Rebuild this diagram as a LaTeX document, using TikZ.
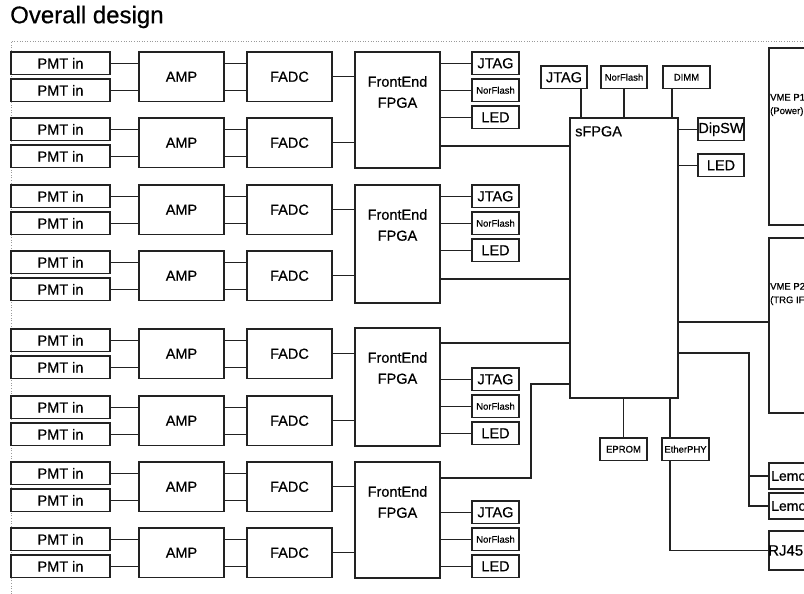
\documentclass[tikz,border=0pt]{standalone}
\usepackage{fontspec}
\setmainfont{Liberation Sans}[FakeBold=0.6]
\usetikzlibrary{positioning,calc}
\definecolor{framegray}{HTML}{9A9A9A}
\definecolor{ink}{HTML}{222222}

\begin{document}
\begin{tikzpicture}[x=1pt, y=-1pt,
  bigtext/.style={font=\fontsize{14.5}{21}\selectfont},
  smalltext/.style={font=\fontsize{9.5}{13.5}\selectfont},
  box/.style={draw=ink, line width=1.3pt, inner sep=0pt, outer sep=0pt,
    anchor=north west, align=center},
  pmt/.style={box, bigtext, minimum width=99pt, minimum height=22.5pt},
  blk/.style={box, bigtext, minimum width=85pt, minimum height=49.5pt},
  fe/.style={box, minimum width=85pt, minimum height=#1,
    label={[anchor=north, align=center, bigtext, inner sep=0pt, yshift=-24pt]north:FrontEnd\\FPGA}},
  per/.style={box, minimum width=47pt, minimum height=22.5pt},
  side/.style={box, minimum width=60pt, minimum height=#1},
  link/.style={draw=ink, line width=1.3pt}
]
\useasboundingbox (0,0) rectangle (804,594);

% Title and frame
\node[anchor=west, font=\fontsize{24}{27}\selectfont, inner sep=0pt] (title) at (10,17) {Overall design};
\draw[framegray, dotted, line width=0.6pt] (11,594) -- (11,41) -- (804,41);

% PMT -> AMP -> FADC chains
\foreach \t [count=\g] in {52,118,185,251,329,396,462,528}{
  \node[pmt] (pa\g) at (11,\t) {PMT in};
  \node[pmt, below=4.5pt of pa\g] (pb\g) {PMT in};
  \node[blk] (amp\g) at (139,\t) {AMP};
  \node[blk, right=23pt of amp\g] (fadc\g) {FADC};
  \draw[link] (pa\g.east) -- (pa\g.east -| amp\g.west);
  \draw[link] (pb\g.east) -- (pb\g.east -| amp\g.west);
  \draw[link] (pa\g.east -| amp\g.east) -- (pa\g.east -| fadc\g.west);
  \draw[link] (pb\g.east -| amp\g.east) -- (pb\g.east -| fadc\g.west);
}

% FrontEnd FPGAs
\node[fe=116pt] (fe1) at (355,52) {};
\node[fe=118pt] (fe2) at (355,185) {};
\node[fe=118pt] (fe3) at (355,328) {};
\node[fe=116pt] (fe4) at (355,462) {};

\draw[link] (fadc1.east) -- (fadc1.east -| fe1.west);
\draw[link] (fadc2.east) -- (fadc2.east -| fe1.west);
\draw[link] (fadc3.east) -- (fadc3.east -| fe2.west);
\draw[link] (fadc4.east) -- (fadc4.east -| fe2.west);
\draw[link] (fadc5.east) -- (fadc5.east -| fe3.west);
\draw[link] (fadc6.east) -- (fadc6.east -| fe3.west);
\draw[link] (fadc7.east) -- (fadc7.east -| fe4.west);
\draw[link] (fadc8.east) -- (fadc8.east -| fe4.west);

% FrontEnd peripherals
\foreach \f/\y in {1/52, 2/185, 3/368, 4/501}{
  \node[per, bigtext] (jtag\f) at (472,\y) {JTAG};
  \node[per, smalltext, below=4.5pt of jtag\f] (nor\f) {NorFlash};
  \node[per, bigtext, below=4.5pt of nor\f] (led\f) {LED};
  \draw[link] (fe\f.east |- jtag\f) -- (jtag\f);
  \draw[link] (fe\f.east |- nor\f) -- (nor\f);
  \draw[link] (fe\f.east |- led\f) -- (led\f);
}

% sFPGA
\node[box, minimum width=108pt, minimum height=280pt,
  label={[anchor=north west, bigtext, inner sep=0pt, xshift=5pt, yshift=-8pt]north west:sFPGA}] (sfpga) at (570,118) {};

\node[per, bigtext, minimum width=46pt] (sjtag) at (541,66) {JTAG};
\node[per, smalltext, minimum width=46pt] (snor) at (601,66) {NorFlash};
\node[per, smalltext, minimum width=47pt] (dimm) at (663,66) {DIMM};
\node[per, bigtext, minimum width=46pt] (dipsw) at (698,118) {DipSW};
\node[per, bigtext, minimum width=46pt] (sled) at (698,154) {LED};
\node[per, smalltext] (eprom) at (600,438) {EPROM};
\node[per, smalltext] (ephy) at (662,438) {EtherPHY};

% connectors at the sFPGA
\coordinate (t1) at ([xshift=11pt]sfpga.north west);
\coordinate (t2) at ([xshift=54pt]sfpga.north west);
\coordinate (t3) at ([xshift=102pt]sfpga.north west);
\draw[link] (t1) -- (t1 |- sjtag.south);
\draw[link] (t2) -- (t2 |- snor.south);
\draw[link] (t3) -- (t3 |- dimm.south);
\draw[link] (sfpga.east |- dipsw) -- (dipsw);
\draw[link] (sfpga.east |- sled) -- (sled);

\coordinate (b1) at (eprom.north |- sfpga.south);
\coordinate (b2) at ([xshift=8pt]ephy.north west |- sfpga.south);
\draw[link] (b1) -- (eprom.north);
\draw[link] (b2) -- (b2 |- ephy.north);

% FrontEnd -> sFPGA
\coordinate (c1) at ([yshift=22pt]fe1.south east);
\coordinate (c2) at ([yshift=24pt]fe2.south east);
\coordinate (c3) at ([yshift=-15pt]fe3.north east);
\coordinate (c4) at ([yshift=-16pt]fe4.north east);
\coordinate (j4) at ([yshift=-266pt]sfpga.north west);
\draw[link] (c1) -- (c1 -| sfpga.west);
\draw[link] (c2) -- (c2 -| sfpga.west);
\draw[link] (c3) -- (c3 -| sfpga.west);
\draw[link] (c4) -| ([xshift=-39pt]j4) -- (j4);

% Backplane side
\node[side=177pt,
  label={[anchor=west, smalltext, align=left, inner sep=0pt, xshift=1pt, yshift=31.5pt]west:VME P1\\(Power)}] (vme1) at (769,48) {};
\node[side=175pt,
  label={[anchor=west, smalltext, align=left, inner sep=0pt, xshift=1pt, yshift=31.5pt]west:VME P2\\(TRG IF)}] (vme2) at (769,238) {};
\node[side=26pt,
  label={[anchor=west, font=\fontsize{14}{16}\selectfont, inner sep=0pt, xshift=2pt]west:Lemo}] (lemo1) at (769,463) {};
\node[side=26pt,
  label={[anchor=west, font=\fontsize{14}{16}\selectfont, inner sep=0pt, xshift=2pt]west:Lemo}] (lemo2) at (769,493) {};
\node[side=39pt,
  label={[anchor=west, font=\fontsize{15}{17}\selectfont, inner sep=0pt, xshift=-1pt]west:RJ45}] (rj45) at (769,531) {};

\coordinate (r1) at ([yshift=-204pt]sfpga.north east);
\coordinate (r2) at ([yshift=-235pt]sfpga.north east);
\draw[link] (r1) -- (r1 -| vme2.west);
\draw[link] (r2) -| ([xshift=-20pt]lemo2.west) -- (lemo2.west);
\draw[link] ([xshift=-20pt]lemo1.west) -- (lemo1.west);
\draw[link] (b2 |- ephy.south) |- (rj45.west);

\end{tikzpicture}
\end{document}
